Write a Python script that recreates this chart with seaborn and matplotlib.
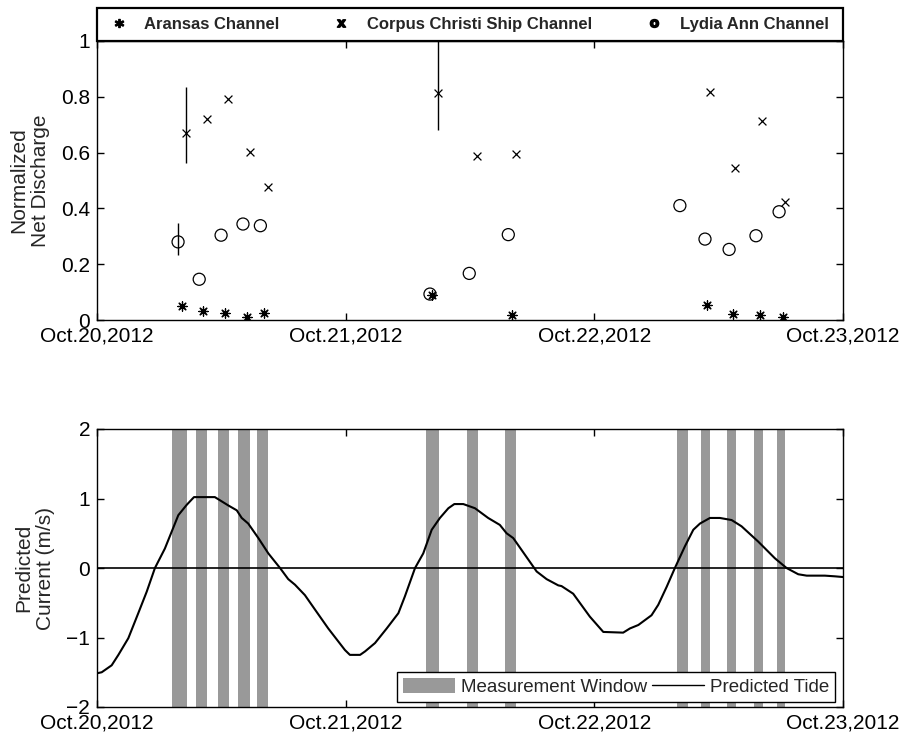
import numpy as np
import pandas as pd
import matplotlib
matplotlib.use("Agg")
import matplotlib.pyplot as plt
from matplotlib import font_manager
from matplotlib.lines import Line2D
from matplotlib.patches import Patch, Rectangle
import seaborn as sns

# ---- discharge measurements (days after Oct.20,2012 00:00) ----
aransas_day = [0.340, 0.428, 0.515, 0.602, 0.671, 1.349, 1.670, 2.454, 2.556, 2.666, 2.760]
aransas_q = [0.050, 0.033, 0.026, 0.012, 0.024, 0.090, 0.018, 0.054, 0.021, 0.018, 0.012]

ccsc_day = [0.358, 0.442, 0.527, 0.614, 0.686, 1.372, 1.528, 1.683, 2.465, 2.565, 2.675, 2.766]
ccsc_q = [0.671, 0.719, 0.792, 0.603, 0.475, 0.815, 0.588, 0.594, 0.818, 0.546, 0.714, 0.424]
ccsc_err_low = [0.109, 0, 0, 0, 0, 0.134, 0, 0, 0, 0, 0, 0]
ccsc_err_high = [0.165, 0, 0, 0, 0, 0.200, 0, 0, 0, 0, 0, 0]

lydia_day = [0.326, 0.411, 0.499, 0.587, 0.657, 1.339, 1.497, 1.654, 2.344, 2.445, 2.542, 2.650, 2.743]
lydia_q = [0.280, 0.146, 0.304, 0.344, 0.338, 0.093, 0.167, 0.306, 0.410, 0.290, 0.253, 0.302, 0.388]
lydia_err_low = [0.047, 0, 0, 0, 0, 0, 0, 0, 0, 0, 0, 0, 0]
lydia_err_high = [0.069, 0, 0, 0, 0, 0, 0, 0, 0, 0, 0, 0, 0]

# ---- measurement windows ----
window_start = [0.303, 0.398, 0.487, 0.568, 0.645, 1.323, 1.488, 1.640,
                2.333, 2.429, 2.533, 2.642, 2.734]
window_end = [0.361, 0.442, 0.531, 0.615, 0.687, 1.375, 1.532, 1.685,
              2.376, 2.465, 2.569, 2.677, 2.768]

# ---- predicted tidal current ----
tide_day = [0, 0.019, 0.059, 0.086, 0.126, 0.166, 0.200, 0.233, 0.273, 0.327,
            0.361, 0.390, 0.474, 0.528, 0.562, 0.582, 0.608, 0.649, 0.689, 0.736,
            0.769, 0.796, 0.836, 0.877, 0.930, 0.997, 1.017, 1.058, 1.078, 1.118,
            1.165, 1.212, 1.238, 1.279, 1.312, 1.346, 1.379, 1.413, 1.437, 1.473,
            1.520, 1.573, 1.620, 1.647, 1.674, 1.721, 1.768, 1.808, 1.855, 1.868,
            1.915, 1.982, 2.036, 2.116, 2.143, 2.177, 2.230, 2.257, 2.291, 2.324,
            2.364, 2.398, 2.425, 2.465, 2.505, 2.552, 2.592, 2.659, 2.726, 2.773,
            2.820, 2.854, 2.927, 2.968, 3.0]
tide_current = [-1.515, -1.50, -1.40, -1.25, -1.01, -0.65, -0.34, 0.0, 0.28, 0.76,
                0.91, 1.02, 1.02, 0.90, 0.83, 0.72, 0.64, 0.43, 0.21, 0.0,
                -0.16, -0.24, -0.39, -0.60, -0.87, -1.18, -1.25, -1.25, -1.20, -1.08,
                -0.87, -0.65, -0.41, 0.0, 0.21, 0.55, 0.72, 0.86, 0.92, 0.92,
                0.86, 0.72, 0.62, 0.50, 0.43, 0.19, -0.05, -0.16, -0.25, -0.26,
                -0.37, -0.70, -0.92, -0.93, -0.87, -0.82, -0.68, -0.53, -0.27, 0.0,
                0.31, 0.55, 0.64, 0.72, 0.72, 0.69, 0.60, 0.38, 0.14, 0.0,
                -0.09, -0.11, -0.11, -0.12, -0.13]

date_ticks = [0, 1, 2, 3]
date_labels = ["Oct.20,2012", "Oct.21,2012", "Oct.22,2012", "Oct.23,2012"]
q_ticks = [0, 0.2, 0.4, 0.6, 0.8, 1]
q_labels = ["0", "0.2", "0.4", "0.6", "0.8", "1"]
cur_ticks = [-2, -1, 0, 1, 2]
cur_labels = ["\u22122", "\u22121", "0", "1", "2"]

sns.set_style("ticks")
installed = {f.name for f in font_manager.fontManager.ttflist}
base_font = "Liberation Sans" if "Liberation Sans" in installed else "DejaVu Sans"
if "Liberation Sans Narrow" in installed:
    legend_font = font_manager.FontProperties(family="Liberation Sans Narrow",
                                              weight="bold", size=14.5)
else:
    legend_font = font_manager.FontProperties(family=base_font, weight="bold", size=12)
plt.rcParams["font.family"] = [base_font, "DejaVu Sans"]
plt.rcParams["axes.linewidth"] = 1.0
plt.rcParams["axes.edgecolor"] = "black"

W, H = 905, 740
fig = plt.figure(figsize=(W / 100, H / 100), dpi=100)
ax1 = fig.add_axes([97 / W, (H - 320) / H, 746 / W, 279 / H])
ax2 = fig.add_axes([97 / W, (H - 707) / H, 746 / W, 278 / H])

# ---------------- top panel: normalized net discharge ----------------
df_a = pd.DataFrame({"day": aransas_day, "q": aransas_q})
df_c = pd.DataFrame({"day": ccsc_day, "q": ccsc_q})
df_l = pd.DataFrame({"day": lydia_day, "q": lydia_q})

sns.scatterplot(data=df_a, x="day", y="q", ax=ax1, marker=(8, 2, 0), s=45,
                color="black", edgecolor="black", linewidth=0.9, zorder=3)
sns.scatterplot(data=df_c, x="day", y="q", ax=ax1, marker="x", s=32,
                color="black", linewidth=0.9, zorder=3)
sns.scatterplot(data=df_l, x="day", y="q", ax=ax1, marker="o", s=75,
                facecolor="none", edgecolor="black", linewidth=0.9, zorder=3)

for days, vals, lo, hi in [(ccsc_day, ccsc_q, ccsc_err_low, ccsc_err_high),
                           (lydia_day, lydia_q, lydia_err_low, lydia_err_high)]:
    d = np.asarray(days); v = np.asarray(vals)
    lo = np.asarray(lo); hi = np.asarray(hi)
    m = (lo > 0) | (hi > 0)
    ax1.errorbar(d[m], v[m], yerr=[lo[m], hi[m]], fmt="none", ecolor="black",
                 elinewidth=1.0, capsize=0, zorder=2)

ax1.set_xlim(0, 3)
ax1.set_ylim(0, 1)
ax1.set_xticks(date_ticks)
ax1.set_xticklabels(date_labels)
ax1.set_yticks(q_ticks)
ax1.set_yticklabels(q_labels)
ax1.set_xlabel("")
ax1.set_ylabel("Normalized\nNet Discharge", fontsize=15)
ax1.yaxis.set_label_coords(-47 / 746, 0.5)

# legend strip above the top panel
strip_h = 33 / 279
ax1.add_patch(Rectangle((0, 1), 1, strip_h, transform=ax1.transAxes,
                        facecolor="white", edgecolor="black", lw=1.6,
                        clip_on=False, zorder=5))
top_handles = [
    Line2D([], [], ls="none", marker=r"$\mathbf{*}$", ms=6, color="black"),
    Line2D([], [], ls="none", marker=r"$\mathbf{x}$", ms=6, color="black"),
    Line2D([], [], ls="none", marker=r"$\mathbf{o}$", ms=6, color="black"),
]
top_labels = ["Aransas Channel", "Corpus Christi Ship Channel", "Lydia Ann Channel"]
leg1 = ax1.legend(top_handles, top_labels, ncol=3, loc="center",
                  bbox_to_anchor=(0, 1, 1, strip_h), borderaxespad=0,
                  frameon=False, prop=legend_font, handlelength=0.85,
                  handletextpad=1.1, borderpad=0.2, columnspacing=3.3)
leg1.set_zorder(6)

# ---------------- bottom panel: predicted tidal current ----------------
win_center = (np.asarray(window_start) + np.asarray(window_end)) / 2
win_width = np.asarray(window_end) - np.asarray(window_start)
ax2.bar(win_center, 4, width=win_width, bottom=-2, color="#999999",
        edgecolor="none", zorder=1)
ax2.axhline(0, color="black", lw=1.2, zorder=2)

df_t = pd.DataFrame({"day": tide_day, "current": tide_current})
sns.lineplot(data=df_t, x="day", y="current", ax=ax2, color="black", lw=1.5,
             sort=False, estimator=None, zorder=3)

ax2.set_xlim(0, 3)
ax2.set_ylim(-2, 2)
ax2.set_xticks(date_ticks)
ax2.set_xticklabels(date_labels)
ax2.set_yticks(cur_ticks)
ax2.set_yticklabels(cur_labels)
ax2.set_xlabel("")
ax2.set_ylabel("Predicted\nCurrent (m/s)", fontsize=15)
ax2.yaxis.set_label_coords(-42 / 746, 0.5)

bottom_handles = [Patch(facecolor="#999999", edgecolor="none"),
                  Line2D([], [], color="black", lw=1.0)]
leg2 = ax2.legend(bottom_handles, ["Measurement Window", "Predicted Tide"], ncol=2,
                  loc="lower right", bbox_to_anchor=(0.989, 0.019), borderaxespad=0,
                  frameon=True, fancybox=False, fontsize=13.5, handlelength=2.8,
                  handleheight=0.9, handletextpad=0.3, columnspacing=0.25,
                  borderpad=0.3)
leg2.get_frame().set_edgecolor("black")
leg2.get_frame().set_linewidth(1.0)
leg2.get_frame().set_alpha(1)

for ax in (ax1, ax2):
    for s in ax.spines.values():
        s.set_visible(True)
        s.set_color("black")
        s.set_linewidth(1.0)
    ax.tick_params(direction="in", length=5, width=1.0, top=True, right=True,
                   labelsize=15, pad=5, colors="black")

fig.savefig("out.png", dpi=100)
